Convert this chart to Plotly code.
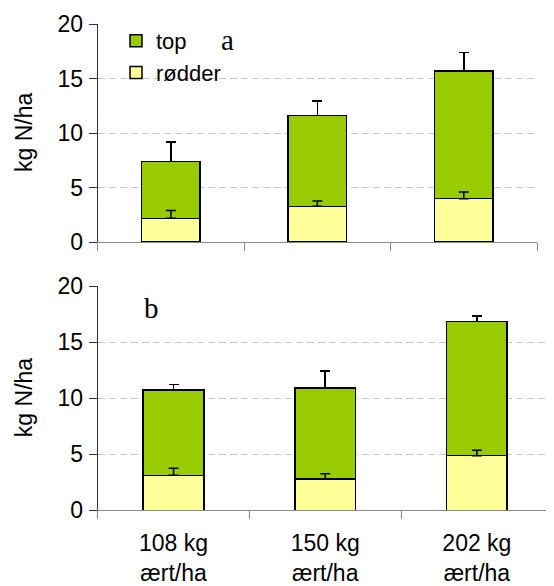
import plotly.graph_objects as go

# ---- data ----
categories = ["108 kg<br>ært/ha", "150 kg<br>ært/ha", "202 kg<br>ært/ha"]

# panel a
roots_a = [2.17, 3.27, 3.97]
roots_a_err = [0.73, 0.49, 0.62]
top_a = [5.20, 8.32, 11.72]
top_a_err = [1.80, 1.35, 1.68]

# panel b
roots_b = [3.12, 2.77, 4.87]
roots_b_err = [0.63, 0.50, 0.49]
top_b = [7.62, 8.12, 11.97]
top_b_err = [0.47, 1.52, 0.48]

series_names = ["rødder", "top"]
y_title = "kg N/ha"
panel_labels = ["a", "b"]
y_ticks = [0, 5, 10, 15, 20]

# ---- style ----
W, H = 554, 586
OFF = 8  # default page body margin
FW, FH = W - OFF, H - OFF
GREEN = "#99CC00"
YELLOW = "#FFFF99"
FONT = "Liberation Sans, Arial, sans-serif"
SERIF = "Liberation Serif, Times New Roman, serif"
FS = 23


def px_x(p):
    return (p - OFF) / FW


def px_y(p):
    return 1 - (p - OFF) / FH


fig = go.Figure()

err_style = dict(type="data", symmetric=False, color="black", thickness=1.5, width=5)


def add_panel(roots, roots_err, tops, tops_err, xa, ya, showlegend):
    fig.add_trace(go.Bar(
        x=categories, y=roots, name=series_names[0], xaxis=xa, yaxis=ya,
        marker=dict(color=YELLOW, line=dict(color="black", width=1.5)),
        width=0.4, showlegend=showlegend, legendgroup="r", hoverinfo="skip"))
    fig.add_trace(go.Bar(
        x=categories, y=tops, name=series_names[1], xaxis=xa, yaxis=ya,
        marker=dict(color=GREEN, line=dict(color="black", width=1.5)),
        error_y=dict(array=tops_err, arrayminus=[0] * len(tops_err), **err_style),
        width=0.4, showlegend=showlegend, legendgroup="t"))
    # root error bars drawn above the stacked bars
    fig.add_trace(go.Scatter(
        x=categories, y=roots, mode="markers", xaxis=xa, yaxis=ya,
        marker=dict(size=1, opacity=0), showlegend=False,
        error_y=dict(array=roots_err, arrayminus=[0] * len(roots_err), **err_style)))


add_panel(roots_a, roots_a_err, top_a, top_a_err, "x", "y", True)
add_panel(roots_b, roots_b_err, top_b, top_b_err, "x2", "y2", False)

yaxis_common = dict(
    range=[0, 20], tickvals=y_ticks, showgrid=True, gridcolor="#c8c8c8",
    griddash="7px,4px", gridwidth=1, showline=True, linecolor="#333333",
    linewidth=1, ticks="outside", ticklen=8, tickcolor="#333333",
    tickfont=dict(family=FONT, size=FS, color="black"), zeroline=False,
    fixedrange=True, automargin=False, ticklabelstandoff=1,
)
xaxis_common = dict(
    type="category", tickson="boundaries", ticks="outside", ticklen=8,
    tickcolor="#888888", showline=True, linecolor="#888888", linewidth=1,
    showgrid=False, zeroline=False, automargin=False,
    tickfont=dict(family=FONT, size=FS, color="black"),
)

fig.update_layout(
    width=FW, height=FH, barmode="stack",
    margin=dict(l=0, r=0, t=0, b=0),
    plot_bgcolor="white", paper_bgcolor="white",
    xaxis=dict(domain=[px_x(97.7), px_x(537)], anchor="y",
               showticklabels=False, **xaxis_common),
    yaxis=dict(domain=[px_y(242), px_y(24)], anchor="x", **yaxis_common),
    xaxis2=dict(domain=[px_x(97.7), px_x(552.7)], anchor="y2",
                showticklabels=True, ticklabelstandoff=12, **xaxis_common),
    yaxis2=dict(domain=[px_y(510.3), px_y(286)], anchor="x2", **yaxis_common),
    legend=dict(x=px_x(116), y=px_y(20), xanchor="left", yanchor="top",
                traceorder="reversed", bgcolor="rgba(0,0,0,0)",
                font=dict(family=FONT, size=FS - 1, color="black"),
                itemwidth=30, tracegroupgap=0),
    showlegend=True,
)

# axis titles
for yc in [(24 + 242) / 2, (286 + 510.3) / 2]:
    fig.add_annotation(text=y_title, xref="paper", yref="paper",
                       x=px_x(24), y=px_y(yc), textangle=-90,
                       showarrow=False, xanchor="center", yanchor="middle",
                       font=dict(family=FONT, size=FS, color="black"))

# panel letters
fig.add_annotation(text=panel_labels[0], xref="paper", yref="paper",
                   x=px_x(227), y=px_y(40), showarrow=False,
                   xanchor="center", yanchor="middle",
                   font=dict(family=SERIF, size=29, color="black"))
fig.add_annotation(text=panel_labels[1], xref="paper", yref="paper",
                   x=px_x(151.7), y=px_y(308), showarrow=False,
                   xanchor="center", yanchor="middle",
                   font=dict(family=SERIF, size=29, color="black"))

fig.write_html("out.html")
